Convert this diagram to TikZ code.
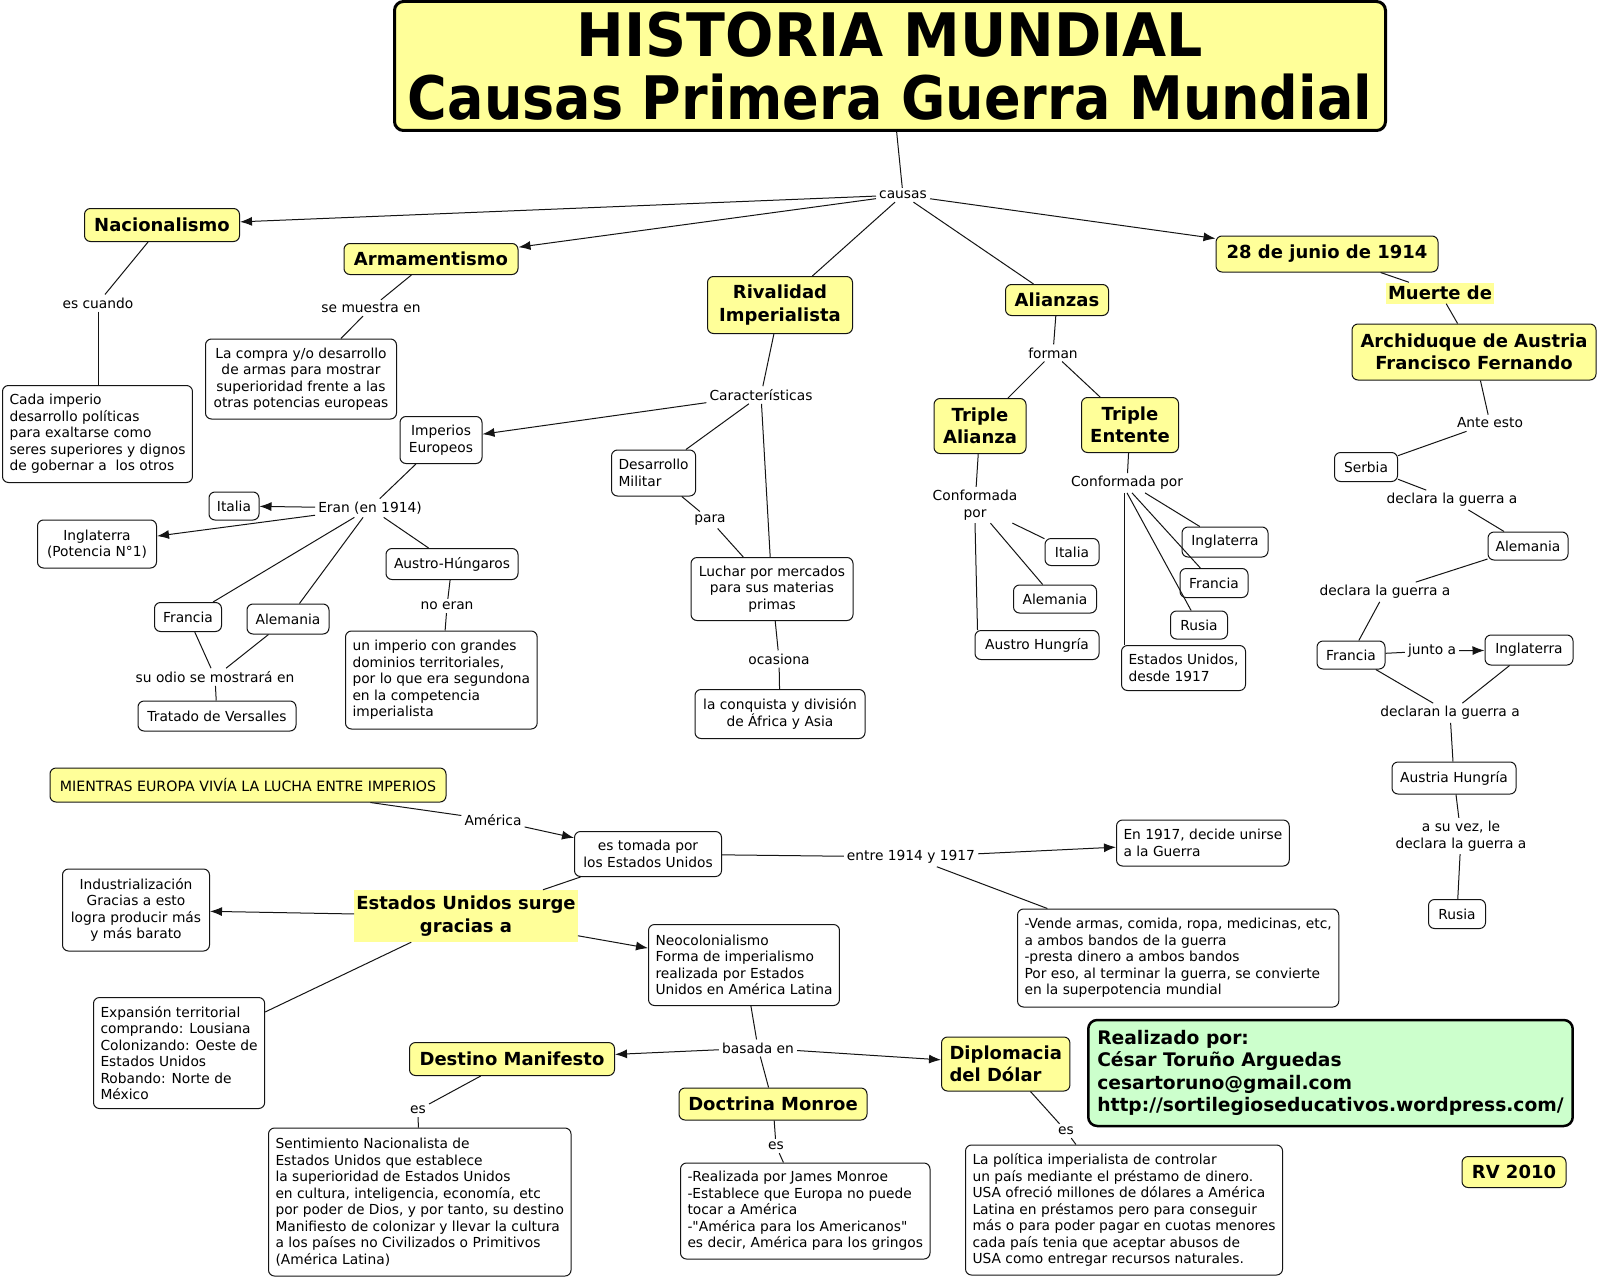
\documentclass[tikz,border=0pt]{standalone}
\usepackage{graphicx}
\usepackage{fontspec}
\setmainfont{DejaVu Sans}[Ligatures=TeXOff]
\usetikzlibrary{arrows.meta}
\definecolor{cyel}{RGB}{255,255,153}
\definecolor{cgrn}{RGB}{204,255,204}
\definecolor{cline}{RGB}{20,20,20}
\begin{document}
\begin{tikzpicture}[x=1pt,y=-1pt,
 every node/.style={font=\fontsize{13.8}{16.5}\selectfont, inner sep=3pt, text=black},
 box/.style={draw=cline, rounded corners=6pt, line width=1pt, fill=white, align=center, inner sep=4pt},
 boxl/.style={box, align=left, anchor=west, inner xsep=7pt},
 key/.style={draw=cline, rounded corners=6pt, line width=1pt, fill=cyel, align=center, inner sep=4pt, font=\fontsize{18}{22.5}\selectfont\bfseries},
 ybox/.style={draw=cline, rounded corners=6pt, line width=1pt, fill=cyel, align=center, inner sep=4pt},
 lab/.style={align=center, inner sep=3pt},
 hl/.style={fill=cyel, align=center, inner sep=2pt, font=\fontsize{18}{22.5}\selectfont\bfseries},
 titlebox/.style={draw=black, line width=3pt, rounded corners=9pt, fill=cyel, align=center, font=\fontsize{60}{63}\selectfont\bfseries},
 greenbox/.style={draw=black, line width=2.5pt, rounded corners=9pt, fill=cgrn, align=left, anchor=west, inner xsep=9pt, font=\fontsize{18.7}{22.4}\selectfont\bfseries},
 con/.style={draw=cline, line width=1pt},
 arr/.style={con, -{Latex[length=12pt,width=9pt]}},
]
\fill[white] (0,0) rectangle (1600,1279);
\useasboundingbox (0,0) rectangle (1600,1279);

% ---------- title and causes ----------
\node[titlebox, minimum width=991, minimum height=129] (title) at (890,66)
 {\scalebox{0.95}[1]{HISTORIA MUNDIAL}\\\scalebox{0.9}[1]{Causas Primera Guerra Mundial}};
\node[lab] (causas) at (903,195) {causas};
\node[key, minimum width=155, minimum height=33] (nac) at (162,225) {Nacionalismo};
\node[key, minimum width=174, minimum height=31] (arm) at (431,259) {Armamentismo};
\node[key, minimum width=145, minimum height=57] (riv) at (780,305) {Rivalidad\\Imperialista};
\node[key, minimum width=103, minimum height=31] (ali) at (1057,300) {Alianzas};
\node[key, minimum width=222, minimum height=36] (jun) at (1327,254) {28 de junio de 1914};
\node[hl, minimum width=105, minimum height=21] (mue) at (1440,293) {Muerte de};
\node[key, minimum width=244, minimum height=56] (arc) at (1474,352) {Archiduque de Austria\\Francisco Fernando};

% ---------- Nacionalismo / Armamentismo ----------
\node[lab] (escuando) at (98,303) {es cuando};
\node[boxl, minimum height=97] (cada) at (2,434) {Cada imperio\\desarrollo políticas\\para exaltarse como\\seres superiores y dignos\\de gobernar a\ \ los otros};
\node[lab] (semuestra) at (371,308) {se muestra en};
\node[box, minimum width=191, minimum height=80] (compra) at (301,379) {La compra y/o desarrollo\\de armas para mostrar\\superioridad frente a las\\otras potencias europeas};

% ---------- Rivalidad ----------
\node[lab] (carac) at (761,395) {Características};
\node[box, minimum width=82, minimum height=47] (imp) at (441,440) {Imperios\\Europeos};
\node[boxl, minimum height=46] (desmil) at (611,473) {Desarrollo\\Militar};
\node[lab] (para) at (710,520) {para};
\node[box, minimum width=162, minimum height=63] (luchar) at (772,589) {Luchar por mercados\\para sus materias\\primas};
\node[lab] (ocasiona) at (779,659) {ocasiona};
\node[box, minimum width=170, minimum height=49] (conq) at (780,714) {la conquista y división\\de África y Asia};
\node[lab] (eran) at (370,508) {Eran (en 1914)};
\node[box, minimum width=50, minimum height=28] (ital1) at (234,506) {Italia};
\node[box, minimum width=119, minimum height=48] (ingl1) at (97,544) {Inglaterra\\(Potencia N°1)};
\node[box, minimum width=132, minimum height=31] (austh) at (452,564) {Austro-Húngaros};
\node[box, minimum width=67, minimum height=29] (fran1) at (188,617) {Francia};
\node[box, minimum width=82, minimum height=30] (alem1) at (288,619) {Alemania};
\node[lab] (noeran) at (447,606) {no eran};
\node[boxl, minimum height=98] (unimp) at (345,680) {un imperio con grandes\\dominios territoriales,\\por lo que era segundona\\en la competencia\\imperialista};
\node[lab] (odio) at (215,677) {su odio se mostrará en};
\node[box, minimum width=158, minimum height=30] (trat) at (217,716) {Tratado de Versalles};

% ---------- Alianzas ----------
\node[lab] (forman) at (1053,353) {forman};
\node[key, minimum width=92, minimum height=55] (tali) at (980,426) {Triple\\Alianza};
\node[key, minimum width=97, minimum height=55] (tent) at (1130,425) {Triple\\Entente};
\node[lab] (confA) at (975,505) {Conformada\\por};
\node[lab] (confE) at (1127,483) {Conformada por};
\node[box, minimum width=54, minimum height=27] (ital2) at (1072,552) {Italia};
\node[box, minimum width=83, minimum height=28] (alem2) at (1055,599) {Alemania};
\node[box, minimum width=124, minimum height=29] (austh2) at (1037,645) {Austro Hungría};
\node[box, minimum width=86, minimum height=30] (ingl2) at (1225,542) {Inglaterra};
\node[box, minimum width=68, minimum height=29] (fran2) at (1214,583) {Francia};
\node[box, minimum width=57, minimum height=28] (rus2) at (1199,625) {Rusia};
\node[boxl, minimum height=45] (eeuu2) at (1121,668) {Estados Unidos,\\desde 1917};

% ---------- 28 de junio ----------
\node[lab] (ante) at (1490,423) {Ante esto};
\node[box, minimum width=63, minimum height=29] (serb) at (1366,467) {Serbia};
\node[lab] (decl1) at (1452,500) {declara la guerra a};
\node[box, minimum width=80, minimum height=28] (alem3) at (1528,546) {Alemania};
\node[lab] (decl2) at (1385,592) {declara la guerra a};
\node[box, minimum width=68, minimum height=28] (fran3) at (1351,655) {Francia};
\node[lab] (junto) at (1432,651) {junto a};
\node[box, minimum width=88, minimum height=30] (ingl3) at (1529,650) {Inglaterra};
\node[lab] (decl3) at (1450,713) {declaran la guerra a};
\node[box, minimum width=124, minimum height=32] (austh3) at (1454,778) {Austria Hungría};
\node[lab] (asuvez) at (1461,836) {a su vez, le\\declara la guerra a};
\node[box, minimum width=57, minimum height=29] (rus3) at (1457,914) {Rusia};

% ---------- America ----------
\node[ybox, minimum width=396, minimum height=34, font=\fontsize{14.2}{17}\selectfont] (mientras) at (248,785) {MIENTRAS EUROPA VIVÍA LA LUCHA ENTRE IMPERIOS};
\node[lab] (america) at (493,820) {América};
\node[box, minimum width=147, minimum height=45] (tomada) at (648,854) {es tomada por\\los Estados Unidos};
\node[lab] (entre) at (911,857) {entre 1914 y 1917};
\node[boxl, minimum height=46] (en1917) at (1116,843) {En 1917, decide unirse\\a la Guerra};
\node[boxl, minimum height=98] (vende) at (1017,958) {-Vende armas, comida, ropa, medicinas, etc,\\a ambos bandos de la guerra\\-presta dinero a ambos bandos\\Por eso, al terminar la guerra, se convierte\\en la superpotencia mundial};
\node[hl, minimum width=223, minimum height=52] (surge) at (466,916) {Estados Unidos surge\\gracias a};
\node[box, minimum width=147, minimum height=82] (indus) at (136,910) {Industrialización\\Gracias a esto\\logra producir más\\y más barato};
\node[boxl, minimum height=81] (neo) at (648,965) {Neocolonialismo\\Forma de imperialismo\\realizada por Estados\\Unidos en América Latina};
\node[boxl, minimum height=111] (expan) at (93,1053) {Expansión territorial\\comprando: Lousiana\\Colonizando: Oeste de\\Estados Unidos\\Robando: Norte de\\México};
\node[lab] (basada) at (758,1048) {basada en};
\node[key, minimum width=205, minimum height=33] (destino) at (512,1059) {Destino Manifesto};
\node[key, minimum width=188, minimum height=32] (monroe) at (773,1104) {Doctrina Monroe};
\node[key, align=left, anchor=west, inner xsep=8pt, minimum height=54] (dolar) at (941,1064) {Diplomacia\\del Dólar};
\node[lab] (es1) at (418,1110) {es};
\node[lab] (es2) at (776,1146) {es};
\node[lab] (es3) at (1066,1131) {es};
\node[boxl, minimum height=148] (senti) at (268,1202) {Sentimiento Nacionalista de\\Estados Unidos que establece\\la superioridad de Estados Unidos\\en cultura, inteligencia, economía, etc\\por poder de Dios, y por tanto, su destino\\Manifiesto de colonizar y llevar la cultura\\a los países no Civilizados o Primitivos\\(América Latina)};
\node[boxl, minimum height=96] (realiz) at (680,1211) {-Realizada por James Monroe\\-Establece que Europa no puede\\tocar a América\\-"América para los Americanos"\\es decir, América para los gringos};
\node[boxl, minimum height=130] (polit) at (965,1210) {La política imperialista de controlar\\un país mediante el préstamo de dinero.\\USA ofreció millones de dólares a América\\Latina en préstamos pero para conseguir\\más o para poder pagar en cuotas menores\\cada país tenia que aceptar abusos de\\USA como entregar recursos naturales.};
\node[greenbox, minimum height=106] (autor) at (1087,1073) {Realizado por:\\César Toruño Arguedas\\cesartoruno@gmail.com\\http://sortilegioseducativos.wordpress.com/};
\node[key, minimum width=104, minimum height=31] (rv) at (1514,1172) {RV 2010};

% ---------- connectors ----------
\draw[con] (title) -- (causas);
\draw[arr] (causas) -- (nac);
\draw[arr] (causas) -- (arm);
\draw[con] (causas) -- (riv);
\draw[con] (causas) -- (ali);
\draw[arr] (causas) -- (jun);

\draw[con] (nac) -- (escuando);
\draw[con] (escuando) -- (escuando |- cada.north);
\draw[con] (arm) -- (semuestra);
\draw[con] (semuestra) -- (compra);

\draw[con] (riv) -- (carac);
\draw[arr] (carac) -- (imp);
\draw[con] (carac) -- (desmil);
\draw[con] (carac) -- (luchar);
\draw[con] (desmil) -- (para);
\draw[con] (para) -- (luchar);
\draw[con] (luchar) -- (ocasiona);
\draw[con] (ocasiona) -- (conq);
\draw[con] (imp) -- (eran);
\draw[arr] (eran) -- (ital1);
\draw[arr] (eran) -- (ingl1);
\draw[con] (eran) -- (fran1);
\draw[con] (eran) -- (alem1);
\draw[con] (eran) -- (austh);
\draw[con] (austh) -- (noeran);
\draw[con] (noeran) -- (unimp);
\draw[con] (fran1) -- (odio);
\draw[con] (alem1) -- (odio);
\draw[con] (odio) -- (trat);

\draw[con] (ali) -- (forman);
\draw[con] (forman) -- (tali);
\draw[con] (forman) -- (tent);
\draw[con] (tali) -- (confA);
\draw[con] (confA) -- (ital2);
\draw[con] (confA) -- (alem2);
\draw[con] (confA.south) -- ([xshift=3pt]austh2.north west);
\draw[con] (tent) -- (confE);
\draw[con] ([xshift=-3pt]confE.south) -- ([xshift=3pt]eeuu2.north west);
\draw[con] (confE.south) -- (rus2);
\draw[con] ([xshift=5pt]confE.south) -- (fran2);
\draw[con] ([xshift=18pt]confE.south) -- (ingl2);

\draw[con] (jun) -- (mue);
\draw[con] (mue) -- (arc);
\draw[con] (arc) -- (ante);
\draw[con] (ante) -- (serb);
\draw[con] (serb) -- (decl1);
\draw[con] (decl1) -- (alem3);
\draw[con] (alem3) -- (decl2);
\draw[con] (decl2) -- (fran3);
\draw[con] (fran3) -- (junto);
\draw[arr] (junto) -- (ingl3);
\draw[con] (fran3) -- (decl3);
\draw[con] (ingl3) -- (decl3);
\draw[con] (decl3) -- (austh3);
\draw[con] (austh3) -- (asuvez);
\draw[con] (asuvez) -- (rus3);

\draw[con] (mientras) -- (america);
\draw[arr] (america) -- (tomada);
\draw[con] (tomada) -- (entre);
\draw[arr] (entre) -- (en1917);
\draw[con] (entre) -- (vende);
\draw[con] (tomada) -- (surge);
\draw[arr] (surge) -- (indus);
\draw[arr] (surge) -- (neo);
\draw[con] (surge) -- (expan);
\draw[con] (neo) -- (basada);
\draw[arr] (basada) -- (destino);
\draw[arr] (basada) -- (dolar);
\draw[con] (basada) -- (monroe);
\draw[con] (destino) -- (es1);
\draw[con] (es1) -- (senti);
\draw[con] (monroe) -- (es2);
\draw[con] (es2) -- (realiz);
\draw[con] (dolar) -- (es3);
\draw[con] (es3) -- (polit);
\end{tikzpicture}
\end{document}
